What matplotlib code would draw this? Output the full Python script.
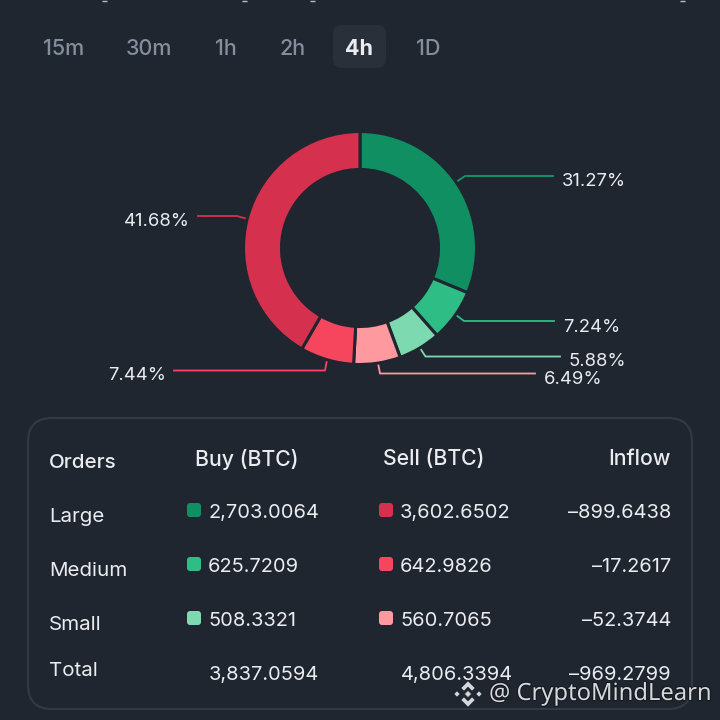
import matplotlib
matplotlib.use("Agg")
import matplotlib.pyplot as plt
import matplotlib.patheffects as pe
from matplotlib.patches import FancyBboxPatch, Polygon

# ---- data ----
timeframes = ["15m", "30m", "1h", "2h", "4h", "1D"]
active_frame = "4h"

shares = [31.27, 7.24, 5.88, 6.49, 7.44, 41.68]
share_colors = ["#0f8f62", "#2ebd85", "#7dd9b0", "#ff99a0", "#f6465d", "#d6304f"]
line_colors = ["#12996a", "#2ebd85", "#7dd9b0", "#ff99a0", "#f6465d", "#d6304f"]

headers = ["Orders", "Buy (BTC)", "Sell (BTC)", "Inflow"]
order_sizes = ["Large", "Medium", "Small"]
buy_vals = ["2,703.0064", "625.7209", "508.3321"]
sell_vals = ["3,602.6502", "642.9826", "560.7065"]
inflow_vals = ["–899.6438", "–17.2617", "–52.3744"]
total_vals = ["3,837.0594", "4,806.3394", "–969.2799"]

# ---- layout (pixels) ----
BG = "#1f2630"
TXT = "#eaecef"
GREY = "#848e9c"
FONT = "Inter"

frame_x = [63.5, 149, 226, 292.5, 359.5, 428.5]
# leader line path + label anchor for every slice
leaders = [
    ([457, 465, 553], [181.5, 176, 176], 562, 182, "left"),
    ([456, 464, 554], [315, 321, 321], 563, 327, "left"),
    ([420, 425.5, 560], [348, 356.5, 356.5], 569, 362, "left"),
    ([378, 380, 535], [363, 373.5, 373.5], 544, 379, "left"),
    ([327, 325, 174], [360, 370.5, 370.5], 166, 376, "right"),
    ([247.5, 237, 198], [219, 216, 216], 190, 222, "right"),
]
row_y = [511, 565, 619]
label_y = [517, 571, 625]
cropped_title_x = [104.5, 244.5, 312, 682]

fig = plt.figure(figsize=(7.2, 7.2), dpi=100, facecolor=BG)
ax = fig.add_axes([0, 0, 1, 1])
ax.set_xlim(0, 720)
ax.set_ylim(720, 0)
ax.axis("off")

# bottom of the cropped title line
for x in cropped_title_x:
    ax.plot([x - 2.5, x + 2.5], [0.6, 0.6], color="#b9bdc4", lw=1.0, solid_capstyle="butt")

# timeframe buttons
ax.add_patch(FancyBboxPatch((333, 25), 53, 43, boxstyle="round,pad=0,rounding_size=9",
                            fc="#2a303a", ec="none"))
for x, lab in zip(frame_x, timeframes):
    on = lab == active_frame
    ax.text(x, 49, lab, color=TXT if on else GREY, fontsize=15.5, family=FONT,
            fontweight="bold" if on else "medium", ha="center", va="center")

# donut
R = 116.5
R_in = 78.5
cx, cy = 360, 248
pad = R * 1.02
pie_ax = fig.add_axes([(cx - pad) / 720, 1 - (cy + pad) / 720, 2 * pad / 720, 2 * pad / 720])
pie_ax.pie(shares, colors=share_colors, startangle=90, counterclock=False, radius=1,
           wedgeprops=dict(width=(R - R_in) / R, edgecolor=BG, linewidth=2.2))
pie_ax.set_xlim(-1.02, 1.02)
pie_ax.set_ylim(-1.02, 1.02)

for val, col, (lx, ly, tx, ty, ha) in zip(shares, line_colors, leaders):
    ax.plot(lx, ly, color=col, lw=1.3, solid_joinstyle="round")
    ax.text(tx, ty, f"{val:.2f}%", color=TXT, fontsize=13.3, family=FONT, ha=ha, va="center")

# table card
ax.add_patch(FancyBboxPatch((28, 418), 664, 291, boxstyle="round,pad=0,rounding_size=24",
                            fc="none", ec="#333a45", lw=1.5))

TS = 14.4
HS = 15.3
ax.text(49, 463, headers[0], color=TXT, fontsize=14.8, family=FONT, va="center", fontweight="medium")
ax.text(195, 459, headers[1], color=TXT, fontsize=HS, family=FONT, va="center", fontweight="medium")
ax.text(383, 459, headers[2], color=TXT, fontsize=HS, family=FONT, va="center", fontweight="medium")
ax.text(671, 459, headers[3], color=TXT, fontsize=HS, family=FONT, va="center", ha="right",
        fontweight="medium")

for i, lab in enumerate(order_sizes):
    y = row_y[i] + 2
    ax.text(49, label_y[i], lab, color=TXT, fontsize=14.8, family=FONT, va="center")
    ax.add_patch(FancyBboxPatch((187, row_y[i] - 8), 14, 14, boxstyle="round,pad=0,rounding_size=3",
                                fc=share_colors[i], ec="none"))
    ax.add_patch(FancyBboxPatch((379, row_y[i] - 8), 14, 14, boxstyle="round,pad=0,rounding_size=3",
                                fc=share_colors[5 - i], ec="none"))
    ax.text(208, y, buy_vals[i], color=TXT, fontsize=TS, family=FONT, va="center")
    ax.text(400, y, sell_vals[i], color=TXT, fontsize=TS, family=FONT, va="center")
    ax.text(671, y, inflow_vals[i], color=TXT, fontsize=TS, family=FONT, va="center", ha="right")

ax.text(49, 671, "Total", color=TXT, fontsize=14.8, family=FONT, va="center")
ax.text(209, 675, total_vals[0], color=TXT, fontsize=TS, family=FONT, va="center")
ax.text(401, 675, total_vals[1], color=TXT, fontsize=TS, family=FONT, va="center")
ax.text(671, 675, total_vals[2], color=TXT, fontsize=TS, family=FONT, va="center", ha="right")

# watermark
WM = "#d5d7da"
shadow = [pe.withStroke(linewidth=1.5, foreground="#14181f")]
ax.text(489, 694, "@ CryptoMindLearn", color=WM, fontsize=17.1, family="Noto Sans", va="center",
        path_effects=shadow, zorder=5)
lx0, ly0 = 468, 694
logo = [
    [(0, -13), (7, -6), (4, -3), (0, -7), (-4, -3), (-7, -6)],
    [(0, 13), (7, 6), (4, 3), (0, 7), (-4, 3), (-7, 6)],
    [(0, -3.5), (3.5, 0), (0, 3.5), (-3.5, 0)],
    [(-14, 0), (-11, -3), (-8, 0), (-11, 3)],
    [(14, 0), (11, -3), (8, 0), (11, 3)],
]
for part in logo:
    ax.add_patch(Polygon([(lx0 + a, ly0 + b) for a, b in part], closed=True, fc=WM, ec="#14181f",
                         lw=0.3, zorder=5))

fig.savefig("out.png", dpi=100, facecolor=BG)
